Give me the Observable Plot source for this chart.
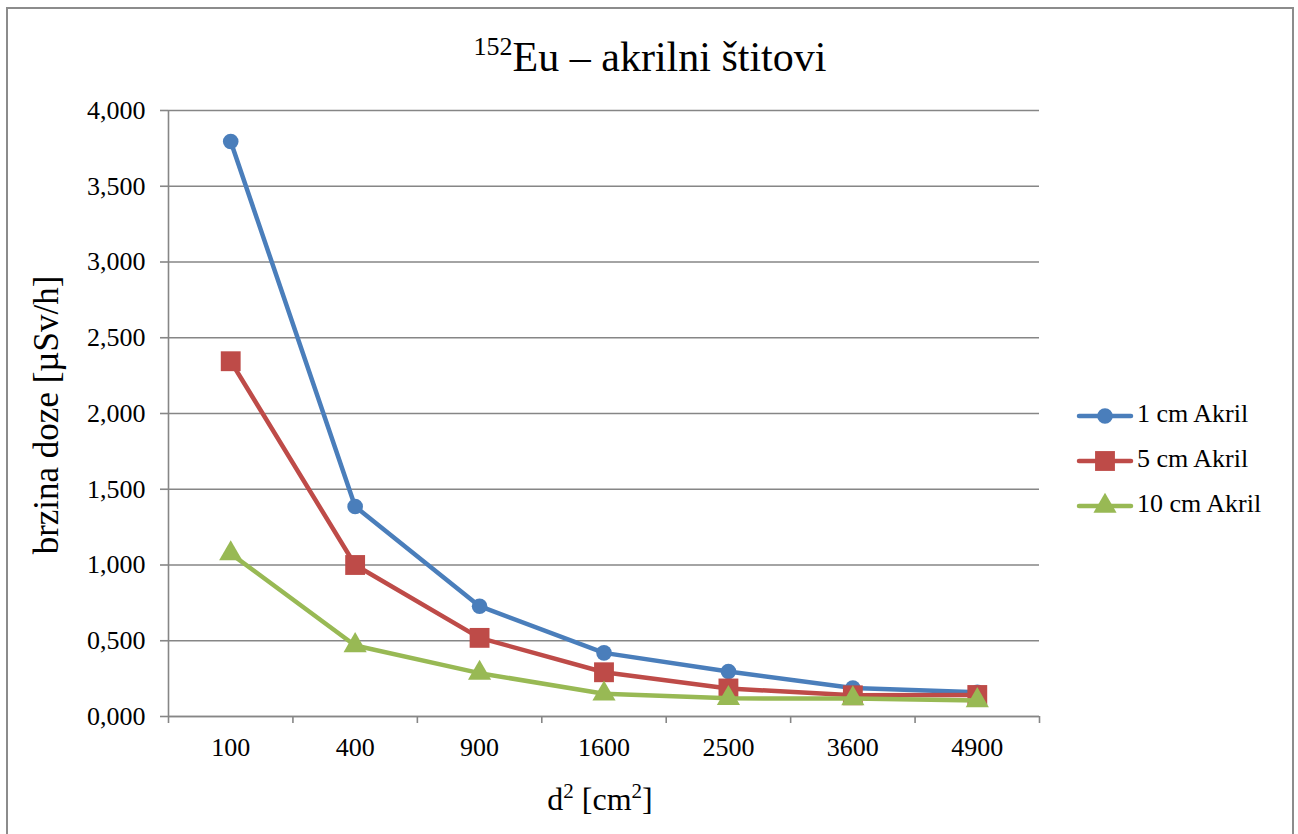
<!DOCTYPE html>
<html>
<head>
<meta charset="utf-8">
<script src="https://cdn.jsdelivr.net/npm/d3@7"></script>
<script src="https://cdn.jsdelivr.net/npm/@observablehq/plot@0.6"></script>
<style>
  html, body { margin: 0; padding: 0; background: #fff; }
  #wrap { position: relative; width: 1298px; height: 834px; overflow: hidden;
          font-family: "Liberation Serif", "Times New Roman", serif; color: #000; }
  #frame { position: absolute; left: 6px; top: 7px; width: 1288px; height: 900px;
           border: 2px solid #8c8c8c; box-sizing: border-box; }
  #chart { position: absolute; left: 0; top: 0; }
  .txt { position: absolute; white-space: nowrap; line-height: 1; }
  #title { font-size: 42px; left: 650px; top: 36px; transform: translateX(-50%); }
  #title .sup { font-size: 26px; position: relative; top: -16px; }
  #ylabel { font-size: 35px; left: 46px; top: 415px; transform: translate(-50%, -50%) rotate(-90deg); }
  #xlabel { font-size: 32px; left: 600px; top: 783px; transform: translateX(-50%); }
  #xlabel .sup { font-size: 21px; position: relative; top: -12px; }
  .legtxt { font-size: 26px; }
  .legsw { position: absolute; }
</style>
</head>
<body>
<div id="wrap">
  <div id="frame"></div>
  <div id="chart"></div>
  <div id="title" class="txt"><span class="sup">152</span>Eu – akrilni štitovi</div>
  <div id="ylabel" class="txt">brzina doze [µSv/h]</div>
  <div id="xlabel" class="txt">d<span class="sup">2</span> [cm<span class="sup">2</span>]</div>
  <div id="legend"></div>
</div>
<script>
// ---- data ----
const categories = ["100", "400", "900", "1600", "2500", "3600", "4900"];
const seriesNames = ["1 cm Akril", "5 cm Akril", "10 cm Akril"];
const akril1  = [3.795, 1.386, 0.728, 0.420, 0.297, 0.188, 0.160];
const akril5  = [2.345, 1.000, 0.519, 0.292, 0.185, 0.140, 0.142];
const akril10 = [1.075, 0.469, 0.286, 0.150, 0.120, 0.118, 0.106];
const yTicks = [0, 0.5, 1, 1.5, 2, 2.5, 3, 3.5, 4];
const seriesColors = ["#4a7ebb", "#be4b48", "#98b954"];
const seriesSymbols = ["circle", "square", "triangle"];
const seriesR = [7.8, 11.2, 8.6];

const seriesValues = [akril1, akril5, akril10];
const rows = seriesValues.map((vals, s) =>
  vals.map((v, i) => ({ series: seriesNames[s], cat: categories[i], idx: i + 0.5, v })));

const fmt = d => d.toFixed(3).replace(".", ",");
const gray = "#868686";

const marks = [
  Plot.gridY(yTicks, { stroke: gray, strokeOpacity: 1, strokeWidth: 1.6 }),
  Plot.ruleX([0], { stroke: gray, strokeWidth: 1.6 }),
  Plot.ruleY([0], { stroke: gray, strokeWidth: 1.6 }),
  Plot.axisY(yTicks, { tickSize: 8, tickPadding: 15, tickFormat: fmt, stroke: gray, strokeWidth: 1.6, label: null }),
  Plot.axisX(d3.range(categories.length + 1), { tickSize: 7, tickFormat: () => "", stroke: gray, strokeWidth: 1.6, label: null }),
  Plot.axisX(categories.map((c, i) => i + 0.5), { tickSize: 0, tickPadding: 21, tickFormat: d => categories[Math.floor(d)], label: null })
];
rows.forEach((r, s) => {
  marks.push(Plot.line(r, { x: "idx", y: "v", stroke: seriesColors[s], strokeWidth: 4.5, strokeLinejoin: "round", strokeLinecap: "round" }));
  marks.push(Plot.dot(r, { x: "idx", y: "v", symbol: seriesSymbols[s], r: seriesR[s], fill: seriesColors[s], stroke: "none" }));
});

const chart = Plot.plot({
  width: 1298, height: 834,
  marginLeft: 168, marginRight: 259, marginTop: 110, marginBottom: 118,
  x: { type: "linear", domain: [0, categories.length] },
  y: { domain: [0, 4] },
  style: { fontFamily: "'Liberation Serif', 'Times New Roman', serif", fontSize: "26px", color: "#000", background: "transparent" },
  marks
});
document.getElementById("chart").appendChild(chart);

// ---- legend ----
const d3Symbols = { circle: d3.symbolCircle, square: d3.symbolSquare, triangle: d3.symbolTriangle };
const legend = document.getElementById("legend");
const legTop = [416, 461, 506];
seriesNames.forEach((name, s) => {
  const sw = d3.create("svg").attr("class", "legsw").attr("width", 60).attr("height", 28)
    .style("left", "1075px").style("top", (legTop[s] - 14) + "px");
  sw.append("line").attr("x1", 4).attr("x2", 56).attr("y1", 14).attr("y2", 14)
    .attr("stroke", seriesColors[s]).attr("stroke-width", 4.5).attr("stroke-linecap", "round");
  const sym = d3.symbol(d3Symbols[seriesSymbols[s]], seriesR[s] * seriesR[s] * Math.PI);
  sw.append("path").attr("d", sym()).attr("transform", "translate(30,14)").attr("fill", seriesColors[s]);
  legend.appendChild(sw.node());
  const t = document.createElement("div");
  t.className = "txt legtxt";
  t.textContent = name;
  t.style.left = "1137px";
  t.style.top = (legTop[s] + 7 - 21.8) + "px";
  legend.appendChild(t);
});
</script>
</body>
</html>
